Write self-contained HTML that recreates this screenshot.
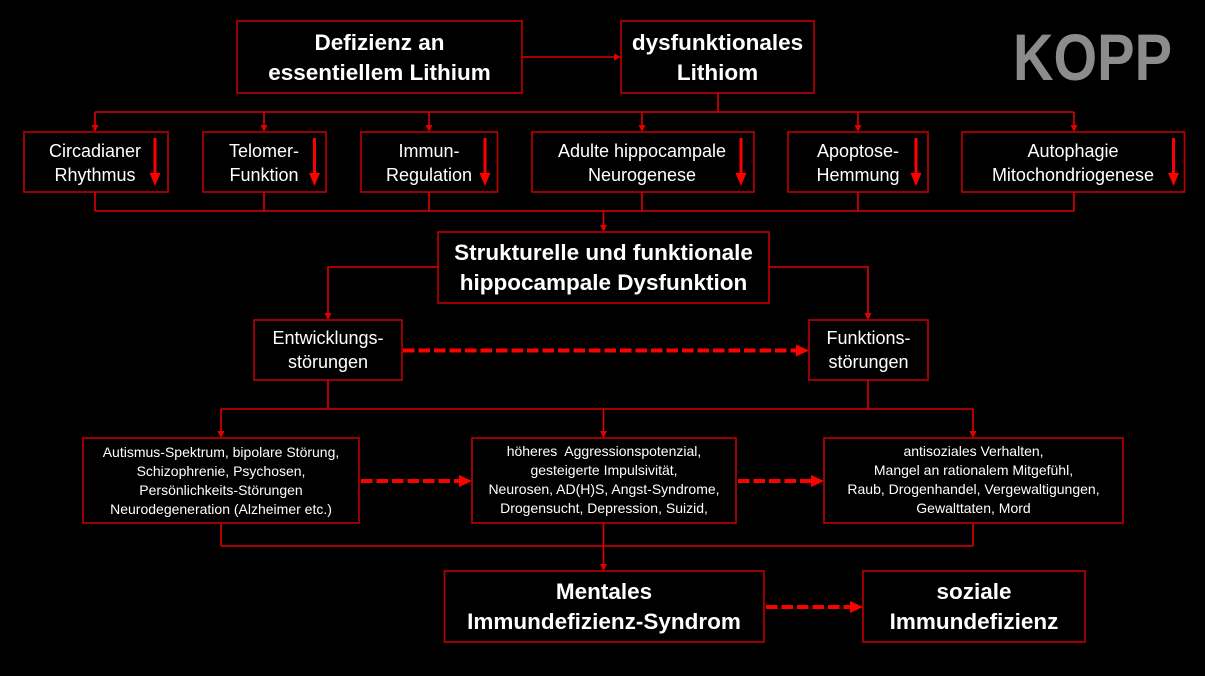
<!DOCTYPE html>
<html>
<head>
<meta charset="utf-8">
<style>
html,body{margin:0;padding:0;background:#000;}
body{width:1205px;height:676px;overflow:hidden;}
svg{display:block;}
.b{font-family:"Liberation Sans",sans-serif;font-weight:bold;font-size:22.5px;fill:#fff;text-anchor:middle;}
.r{font-family:"Liberation Sans",sans-serif;font-size:18px;fill:#fff;text-anchor:middle;}
.s{font-family:"Liberation Sans",sans-serif;font-size:14px;fill:#fff;text-anchor:middle;}
.box{fill:#000;stroke:#c00000;stroke-width:1.6;}
.ln{fill:none;stroke:#e00000;stroke-width:1.6;}
.ah{fill:#e00000;}
.dash{fill:none;stroke:#ff0000;stroke-width:4;stroke-dasharray:11.5 4;}
.dh{fill:#ff0000;}
</style>
</head>
<body>
<svg width="1205" height="676" viewBox="0 0 1205 676" xmlns="http://www.w3.org/2000/svg">
<rect x="0" y="0" width="1205" height="676" fill="#000"/>

<!-- KOPP logo -->
<text x="1013" y="80" font-family="Liberation Sans, sans-serif" font-weight="bold" font-size="66" fill="#8c8c8c" textLength="159" lengthAdjust="spacingAndGlyphs">KOPP</text>

<!-- Top boxes -->
<rect class="box" x="237" y="21" width="285" height="72"/>
<text class="b" x="379.5" y="50">Defizienz an</text>
<text class="b" x="379.5" y="80">essentiellem Lithium</text>

<rect class="box" x="621" y="21" width="193" height="72"/>
<text class="b" x="717.5" y="50">dysfunktionales</text>
<text class="b" x="717.5" y="80">Lithiom</text>

<line class="ln" x1="522" y1="57" x2="614" y2="57"/>
<polygon class="ah" points="614,53.5 621,57 614,60.5"/>

<!-- top distribution -->
<line class="ln" x1="718" y1="93" x2="718" y2="112"/>
<line class="ln" x1="95" y1="112" x2="1074" y2="112"/>
<g>
<line class="ln" x1="95" y1="112" x2="95" y2="125"/><polygon class="ah" points="91.5,125 98.5,125 95,132"/>
<line class="ln" x1="264" y1="112" x2="264" y2="125"/><polygon class="ah" points="260.5,125 267.5,125 264,132"/>
<line class="ln" x1="429" y1="112" x2="429" y2="125"/><polygon class="ah" points="425.5,125 432.5,125 429,132"/>
<line class="ln" x1="642" y1="112" x2="642" y2="125"/><polygon class="ah" points="638.5,125 645.5,125 642,132"/>
<line class="ln" x1="858" y1="112" x2="858" y2="125"/><polygon class="ah" points="854.5,125 861.5,125 858,132"/>
<line class="ln" x1="1074" y1="112" x2="1074" y2="125"/><polygon class="ah" points="1070.5,125 1077.5,125 1074,132"/>
</g>

<!-- Row 2 boxes -->
<rect class="box" x="24" y="132" width="144" height="60"/>
<text class="r" x="95" y="157">Circadianer</text>
<text class="r" x="95" y="181">Rhythmus</text>

<rect class="box" x="203" y="132" width="123" height="60"/>
<text class="r" x="264" y="157">Telomer-</text>
<text class="r" x="264" y="181">Funktion</text>

<rect class="box" x="361" y="132" width="136.5" height="60"/>
<text class="r" x="429" y="157">Immun-</text>
<text class="r" x="429" y="181">Regulation</text>

<rect class="box" x="532" y="132" width="222" height="60"/>
<text class="r" x="642" y="157">Adulte hippocampale</text>
<text class="r" x="642" y="181">Neurogenese</text>

<rect class="box" x="788" y="132" width="140" height="60"/>
<text class="r" x="858" y="157">Apoptose-</text>
<text class="r" x="858" y="181">Hemmung</text>

<rect class="box" x="962" y="132" width="222.5" height="60"/>
<text class="r" x="1073" y="157">Autophagie</text>
<text class="r" x="1073" y="181">Mitochondriogenese</text>

<!-- red down arrows in boxes -->
<g fill="#ff0000">
<rect x="153.5" y="138" width="3" height="36"/><polygon points="149.5,173 160.5,173 155,186"/>
<rect x="313" y="138" width="3" height="36"/><polygon points="309,173 320,173 314.5,186"/>
<rect x="483.5" y="138" width="3" height="36"/><polygon points="479.5,173 490.5,173 485,186"/>
<rect x="739.5" y="138" width="3" height="36"/><polygon points="735.5,173 746.5,173 741,186"/>
<rect x="914.5" y="138" width="3" height="36"/><polygon points="910.5,173 921.5,173 916,186"/>
<rect x="1172" y="138" width="3" height="36"/><polygon points="1168,173 1179,173 1173.5,186"/>
</g>

<!-- row 2 collector -->
<line class="ln" x1="95" y1="192" x2="95" y2="211"/>
<line class="ln" x1="264" y1="192" x2="264" y2="211"/>
<line class="ln" x1="429" y1="192" x2="429" y2="211"/>
<line class="ln" x1="642" y1="192" x2="642" y2="211"/>
<line class="ln" x1="858" y1="192" x2="858" y2="211"/>
<line class="ln" x1="1074" y1="192" x2="1074" y2="211"/>
<line class="ln" x1="95" y1="211" x2="1074" y2="211"/>
<line class="ln" x1="603.5" y1="211" x2="603.5" y2="225"/>
<polygon class="ah" points="600,225 607,225 603.5,232"/>

<!-- Strukturelle -->
<rect class="box" x="438" y="232" width="331" height="71"/>
<text class="b" x="603.5" y="260">Strukturelle und funktionale</text>
<text class="b" x="603.5" y="290">hippocampale Dysfunktion</text>

<polyline class="ln" points="438,267 328,267 328,313"/>
<polygon class="ah" points="324.5,313 331.5,313 328,320"/>
<polyline class="ln" points="769,267 868,267 868,313"/>
<polygon class="ah" points="864.5,313 871.5,313 868,320"/>

<!-- Row 3 -->
<rect class="box" x="254" y="320" width="148" height="60"/>
<text class="r" x="328" y="344">Entwicklungs-</text>
<text class="r" x="328" y="368">störungen</text>

<rect class="box" x="809" y="320" width="119" height="60"/>
<text class="r" x="868.5" y="344">Funktions-</text>
<text class="r" x="868.5" y="368">störungen</text>

<line class="dash" x1="403" y1="350.5" x2="797" y2="350.5"/>
<polygon class="dh" points="796,344.5 809,350.5 796,356.5"/>

<line class="ln" x1="328" y1="380" x2="328" y2="409"/>
<line class="ln" x1="868" y1="380" x2="868" y2="409"/>
<line class="ln" x1="221" y1="409" x2="973" y2="409"/>
<line class="ln" x1="221" y1="409" x2="221" y2="431"/><polygon class="ah" points="217.5,431 224.5,431 221,438"/>
<line class="ln" x1="603.5" y1="409" x2="603.5" y2="431"/><polygon class="ah" points="600,431 607,431 603.5,438"/>
<line class="ln" x1="973" y1="409" x2="973" y2="431"/><polygon class="ah" points="969.5,431 976.5,431 973,438"/>

<!-- Row 4 -->
<rect class="box" x="83" y="438" width="276" height="85"/>
<text class="s" x="221" y="457">Autismus-Spektrum, bipolare Störung,</text>
<text class="s" x="221" y="476">Schizophrenie, Psychosen,</text>
<text class="s" x="221" y="495">Persönlichkeits-Störungen</text>
<text class="s" x="221" y="514">Neurodegeneration (Alzheimer etc.)</text>

<rect class="box" x="472" y="438" width="264" height="85"/>
<text class="s" x="604" y="456" xml:space="preserve" style="white-space:pre">höheres  Aggressionspotenzial,</text>
<text class="s" x="604" y="475">gesteigerte Impulsivität,</text>
<text class="s" x="604" y="494">Neurosen, AD(H)S, Angst-Syndrome,</text>
<text class="s" x="604" y="513">Drogensucht, Depression, Suizid,</text>

<rect class="box" x="824" y="438" width="299" height="85"/>
<text class="s" x="973.5" y="456">antisoziales Verhalten,</text>
<text class="s" x="973.5" y="475">Mangel an rationalem Mitgefühl,</text>
<text class="s" x="973.5" y="494">Raub, Drogenhandel, Vergewaltigungen,</text>
<text class="s" x="973.5" y="513">Gewalttaten, Mord</text>

<line class="dash" x1="361" y1="481" x2="460" y2="481"/>
<polygon class="dh" points="459,475 472,481 459,487"/>
<line class="dash" x1="738" y1="481" x2="812" y2="481"/>
<polygon class="dh" points="811,475 824,481 811,487"/>

<line class="ln" x1="221" y1="523" x2="221" y2="546"/>
<line class="ln" x1="973" y1="523" x2="973" y2="546"/>
<line class="ln" x1="221" y1="546" x2="973" y2="546"/>
<line class="ln" x1="603.5" y1="523" x2="603.5" y2="564"/>
<polygon class="ah" points="600,564 607,564 603.5,571"/>

<!-- Bottom -->
<rect class="box" x="444.5" y="571" width="319.5" height="71"/>
<text class="b" x="604" y="599">Mentales</text>
<text class="b" x="604" y="629">Immundefizienz-Syndrom</text>

<rect class="box" x="863" y="571" width="222" height="71"/>
<text class="b" x="974" y="599">soziale</text>
<text class="b" x="974" y="629">Immundefizienz</text>

<line class="dash" x1="766" y1="607" x2="851" y2="607"/>
<polygon class="dh" points="850,601 863,607 850,613"/>
</svg>
</body>
</html>
